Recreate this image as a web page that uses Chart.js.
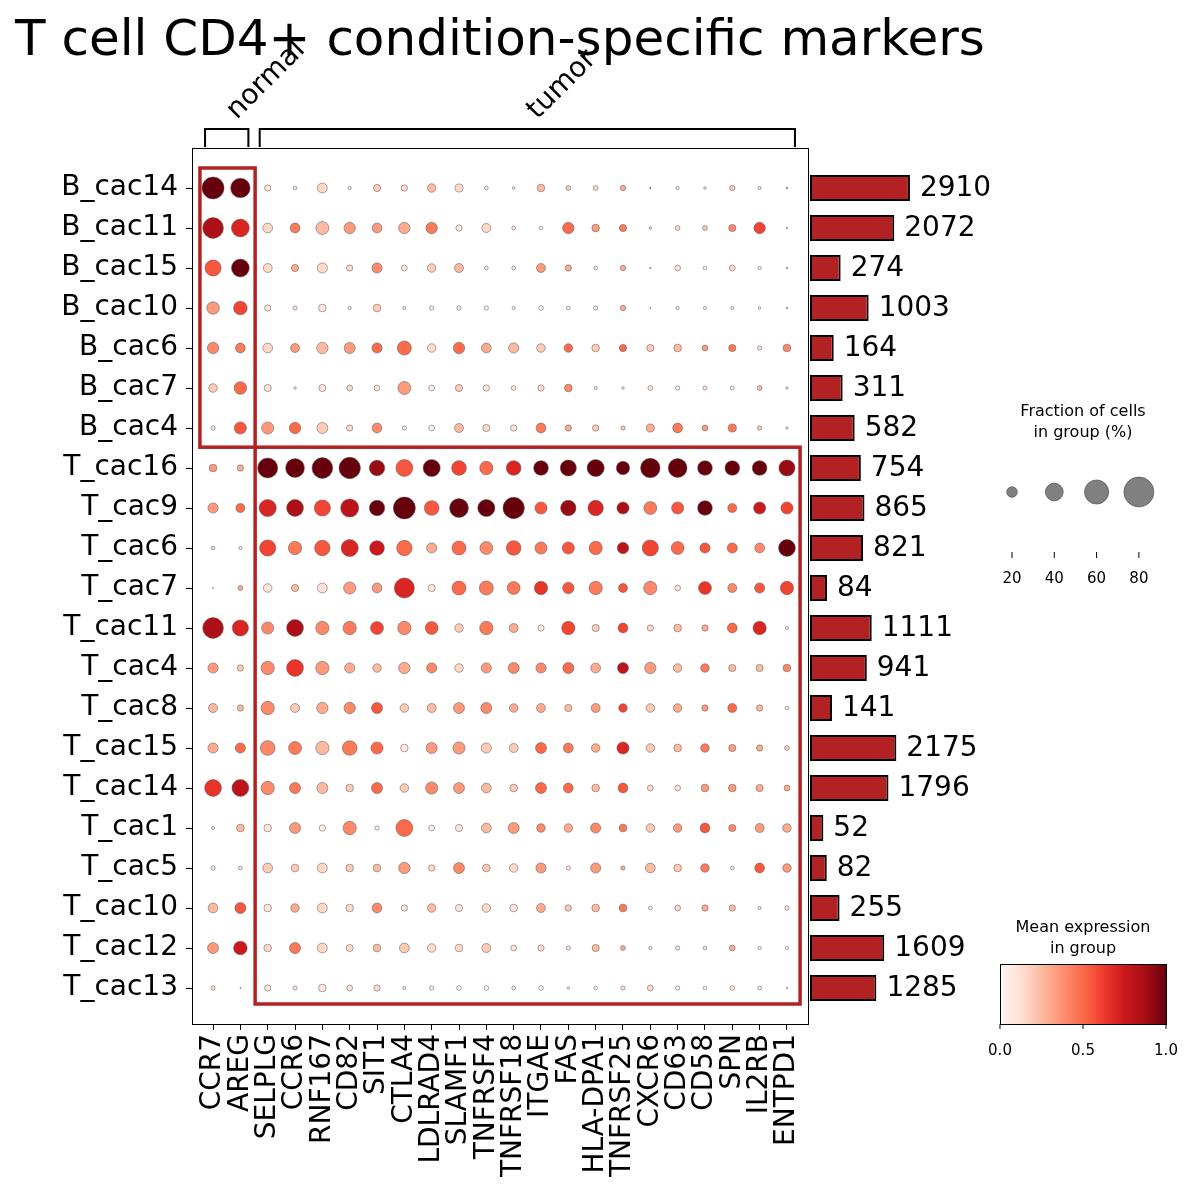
<!DOCTYPE html>
<html>
<head>
<meta charset="utf-8">
<script src="https://cdn.jsdelivr.net/npm/chart.js"></script>
<style>
  body { margin: 0; background: #fff; }
  #wrap { position: relative; width: 1195px; height: 1204px; }
  canvas { position: absolute; }
</style>
</head>
<body>
<div id="wrap">
  <canvas id="dots" width="1195" height="1204" style="left:0;top:0"></canvas>
  <canvas id="bars" width="385" height="840" style="left:810px;top:168px"></canvas>
</div>
<script>
const genes = ["CCR7", "AREG", "SELPLG", "CCR6", "RNF167", "CD82", "SIT1", "CTLA4", "LDLRAD4", "SLAMF1", "TNFRSF4",
    "TNFRSF18", "ITGAE", "FAS", "HLA-DPA1", "TNFRSF25", "CXCR6", "CD63", "CD58", "SPN", "IL2RB", "ENTPD1"]
const groups = ["B_cac14", "B_cac11", "B_cac15", "B_cac10", "B_cac6", "B_cac7", "B_cac4", "T_cac16", "T_cac9", "T_cac6",
    "T_cac7", "T_cac11", "T_cac4", "T_cac8", "T_cac15", "T_cac14", "T_cac1", "T_cac5", "T_cac10", "T_cac12", "T_cac13"]
const cellCounts = [2910, 2072, 274, 1003, 164, 311, 582, 754, 865, 821, 84, 1111, 941, 141, 2175, 1796, 52, 82, 255, 1609, 1285]

// fraction of cells expressing (%) per group x gene
const fraction = [
    [53,45,10,5,18,4,12,10,15,14,5,3,13,7,7,8,1.5,4,3,8,4,2],
    [49,40,18,18,26,22,18,22,22,10,16,5,5,22,13,12,3,7,7,12,22,1.5],
    [35,40,16,12,19,10,19,9,15,16,5,5,16,10,5,8,1.5,9,5,9,4,2],
    [25,28,10,6,13,4,13,4,6,6,6,4,7,5,6,8,1,4,4,4,3,2],
    [22,18,18,16,22,21,19,29,15,22,18,19,15,15,13,12,12,13,9,12,6,13],
    [15,25,12,3,12,9,9,26,9,12,10,7,10,13,4,3,7,6,6,6,7,3],
    [6,24,24,22,21,10,18,6,9,16,12,10,18,10,10,6,14,18,9,14,6,3],
    [13,10,47,43,49,51,33,37,38,31,27,31,31,35,38,27,45,43,31,31,31,35],
    [19,16,38,37,35,41,33,53,31,43,38,51,24,33,33,24,26,24,31,16,24,24],
    [5,4,35,27,33,38,31,33,19,29,26,31,24,24,27,22,35,26,19,19,18,37],
    [1,7,15,12,18,24,18,47,12,29,29,26,27,22,27,16,27,9,26,16,19,27],
    [49,35,24,37,27,27,26,27,26,15,27,16,10,27,12,18,10,13,10,18,27,4],
    [19,10,27,37,27,19,15,22,19,15,19,21,19,21,18,21,22,15,15,12,12,13],
    [16,10,27,16,22,22,21,15,16,21,21,15,16,12,16,15,15,15,10,16,10,5],
    [19,19,31,26,27,31,24,13,21,24,19,16,21,18,15,24,15,13,15,12,10,7],
    [37,37,27,21,21,13,21,15,24,21,18,13,21,18,13,18,9,9,13,13,12,9],
    [4,13,13,21,10,27,6,37,9,12,18,21,15,15,19,13,15,15,18,12,16,15],
    [6,5,18,13,18,13,13,22,10,21,13,15,19,6,19,6,18,13,15,5,18,15],
    [18,21,13,15,18,13,18,10,15,12,15,13,16,10,13,13,5,9,10,10,4,6],
    [21,28,13,21,18,12,13,18,15,13,16,9,10,6,12,7,4,6,5,9,4,4],
    [6,1,10,6,13,9,10,4,6,7,7,5,7,3,5,6,9,6,5,7,5,1.5],
]

// mean expression in group (0..1)
const expression = [
    [1,1,.1,.1,.15,.05,.2,.15,.25,.15,.05,.05,.25,.2,.15,.3,.5,.05,.05,.2,.1,.3],
    [.85,.7,.15,.45,.25,.35,.35,.3,.45,.1,.15,.1,.05,.5,.35,.45,.1,.15,.2,.4,.6,.3],
    [.55,1,.15,.3,.15,.15,.4,.1,.2,.25,.05,.05,.35,.3,.1,.3,.3,.1,.05,.15,.05,.1],
    [.35,.6,.1,.1,.1,.05,.2,.05,.05,.05,.05,.05,.05,.05,.05,.3,.5,.05,.05,.05,.05,.1],
    [.4,.45,.15,.35,.25,.35,.5,.5,.15,.5,.3,.25,.2,.5,.2,.5,.2,.25,.35,.45,.1,.4],
    [.2,.5,.1,.05,.1,.15,.1,.35,.05,.2,.1,.1,.15,.4,.05,.05,.1,.05,.1,.05,.25,.05],
    [.1,.55,.35,.5,.2,.15,.4,.05,.05,.25,.15,.1,.45,.3,.2,.2,.3,.45,.35,.45,.2,.05],
    [.35,.3,1,1,1,1,.9,.55,1,.6,.5,.7,1,1,1,1,1,1,1,1,1,.9],
    [.35,.5,.7,.85,.6,.8,1,1,.55,1,1,1,.55,.9,.7,.85,.45,.55,1,.5,.75,.6],
    [.15,.1,.6,.45,.55,.7,.75,.5,.3,.5,.4,.55,.45,.55,.5,.8,.6,.5,.55,.5,.4,1],
    [.3,.3,.1,.25,.1,.35,.35,.7,.1,.5,.45,.45,.65,.55,.45,.55,.4,.1,.65,.4,.55,.6],
    [.85,.7,.4,.85,.4,.45,.6,.4,.55,.2,.45,.3,.1,.6,.2,.6,.15,.25,.3,.5,.7,.1],
    [.35,.2,.4,.65,.35,.3,.25,.3,.4,.15,.35,.4,.4,.5,.3,.8,.35,.25,.45,.25,.25,.4],
    [.25,.25,.4,.2,.3,.4,.55,.2,.25,.35,.4,.3,.3,.25,.35,.6,.2,.3,.35,.5,.25,.1],
    [.3,.5,.4,.45,.25,.45,.5,.1,.35,.35,.2,.2,.5,.45,.3,.7,.2,.25,.45,.35,.3,.2],
    [.65,.8,.4,.45,.25,.2,.5,.2,.4,.35,.25,.2,.5,.5,.25,.55,.15,.1,.35,.35,.3,.3],
    [.1,.25,.1,.35,.05,.4,.05,.5,.05,.1,.25,.35,.4,.3,.4,.45,.2,.35,.55,.4,.35,.3],
    [.1,.1,.2,.2,.15,.2,.25,.35,.15,.4,.2,.15,.35,.1,.35,.3,.25,.2,.45,.1,.55,.35],
    [.25,.55,.1,.3,.15,.15,.4,.1,.25,.1,.15,.1,.3,.2,.25,.45,.05,.15,.3,.25,.1,.1],
    [.35,.75,.15,.45,.15,.15,.25,.2,.15,.15,.2,.1,.15,.1,.25,.3,.05,.1,.1,.3,.05,.05],
    [.15,.5,.1,.1,.1,.1,.15,.05,.05,.05,.05,.05,.05,.05,.05,.1,.15,.05,.05,.1,.05,.1],
]

const sizeLegendValues = [20, 40, 60, 80]
const colorbarTicks = [0.0, 0.5, 1.0]

// matplotlib "Reds"
const reds = ["#fff5f0", "#fee0d2", "#fcbba1", "#fc9272", "#fb6a4a", "#ef3b2c", "#cb181d", "#a50f15", "#67000d"]
function hex(c) {
    return [1, 3, 5].map((i) => parseInt(c.slice(i, i + 2), 16))
}
function redsColor(v) {
    v = Math.max(0, Math.min(1, v))
    const p = v * (reds.length - 1)
    const i = Math.min(reds.length - 2, Math.floor(p))
    const t = p - i
    const a = hex(reds[i]), b = hex(reds[i + 1])
    return `rgb(${a.map((x, k) => Math.round(x + (b[k] - x) * t)).join(",")})`
}
function dotRadius(f) {
    return 15 * Math.pow(f / 80, 0.75)
}

const FONT = "'DejaVu Sans', sans-serif"
const points = []
groups.forEach((g, i) => genes.forEach((gene, j) => {
    points.push({ x: j, y: i, f: fraction[i][j], e: expression[i][j] })
}))

const extras = {
    id: "extras",
    afterDraw(chart) {
        const ctx = chart.ctx
        const xs = chart.scales.x, ys = chart.scales.y
        const a = chart.chartArea
        ctx.save()
        // frame
        ctx.strokeStyle = "#000"
        ctx.lineWidth = 1
        ctx.strokeRect(a.left + 0.5, a.top + 0.5, a.right - a.left, a.bottom - a.top)

        // title
        ctx.fillStyle = "#000"
        ctx.font = "50px " + FONT
        ctx.textAlign = "left"
        ctx.textBaseline = "alphabetic"
        ctx.fillText("T cell CD4+ condition-specific markers", 15, 55)

        // group brackets
        const brackets = [["normal", 0, 1], ["tumor", 2, 21]]
        ctx.lineWidth = 2
        brackets.forEach(([label, s, e]) => {
            const x0 = xs.getPixelForValue(s) - 8, x1 = xs.getPixelForValue(e) + 8
            ctx.beginPath()
            ctx.moveTo(x0, 147)
            ctx.lineTo(x0, 129)
            ctx.lineTo(x1, 129)
            ctx.lineTo(x1, 147)
            ctx.stroke()
            const cx = (x0 + x1) / 2
            ctx.save()
            ctx.translate(cx + 10, 120)
            ctx.rotate(-Math.PI / 4)
            ctx.font = "28px " + FONT
            ctx.textAlign = "left"
            ctx.fillText(label, 0, 0)
            ctx.restore()
        })

        // highlight boxes
        ctx.strokeStyle = "#b22222"
        ctx.lineWidth = 3.5
        const box = (gx0, gx1, gy0, gy1) => {
            const l = xs.getPixelForValue(gx0), r = xs.getPixelForValue(gx1)
            const t = ys.getPixelForValue(gy0), b = ys.getPixelForValue(gy1)
            ctx.strokeRect(l, t, r - l, b - t)
        }
        box(-0.48, 1.54, -0.5, 6.48)
        box(1.54, 21.48, 6.48, 20.4)

        // size legend
        ctx.fillStyle = "#000"
        ctx.font = "16px " + FONT
        ctx.textAlign = "center"
        ctx.fillText("Fraction of cells", 1083, 416)
        ctx.fillText("in group (%)", 1083, 437)
        sizeLegendValues.forEach((v, k) => {
            const x = 1012 + k * 42.3
            ctx.beginPath()
            ctx.arc(x, 492, dotRadius(v), 0, Math.PI * 2)
            ctx.fillStyle = "#808080"
            ctx.fill()
            ctx.strokeStyle = "#444"
            ctx.lineWidth = 0.6
            ctx.stroke()
            ctx.strokeStyle = "#000"
            ctx.lineWidth = 1
            ctx.beginPath()
            ctx.moveTo(x, 552)
            ctx.lineTo(x, 558)
            ctx.stroke()
            ctx.fillStyle = "#000"
            ctx.font = "15px " + FONT
            ctx.fillText(String(v), x, 583)
        })

        // colorbar
        ctx.font = "16px " + FONT
        ctx.fillText("Mean expression", 1083, 932)
        ctx.fillText("in group", 1083, 953)
        const cl = 1000, cr = 1166, ct = 964, cb = 1024
        const grad = ctx.createLinearGradient(cl, 0, cr, 0)
        reds.forEach((c, k) => grad.addColorStop(k / (reds.length - 1), c))
        ctx.fillStyle = grad
        ctx.fillRect(cl, ct, cr - cl, cb - ct)
        ctx.strokeStyle = "#000"
        ctx.lineWidth = 1
        ctx.strokeRect(cl + 0.5, ct + 0.5, cr - cl, cb - ct)
        colorbarTicks.forEach((v) => {
            const x = cl + v * (cr - cl)
            ctx.beginPath()
            ctx.moveTo(x, cb)
            ctx.lineTo(x, cb + 5)
            ctx.stroke()
            ctx.fillStyle = "#000"
            ctx.font = "15px " + FONT
            ctx.fillText(v.toFixed(1), x, 1055)
        })
        ctx.restore()
    },
}

new Chart(document.getElementById("dots"), {
    type: "bubble",
    data: {
        datasets: [{
            data: points,
            radius: (c) => dotRadius(c.raw.f),
            hoverRadius: 0,
            backgroundColor: (c) => redsColor(c.raw.e),
            borderColor: "#555",
            borderWidth: 0.5,
        }],
    },
    options: {
        responsive: false,
        animation: false,
        events: [],
        layout: { padding: { top: 148, right: 387, left: 0, bottom: 0 } },
        plugins: { legend: { display: false }, tooltip: { enabled: false } },
        scales: {
            x: {
                type: "linear",
                min: -0.77,
                max: 21.77,
                afterBuildTicks: (s) => { s.ticks = genes.map((g, i) => ({ value: i })) },
                afterFit: (s) => { s.height = 180 },
                ticks: {
                    autoSkip: false,
                    minRotation: 90,
                    maxRotation: 90,
                    padding: 4,
                    color: "#000",
                    font: { family: FONT, size: 28 },
                    callback: (v) => genes[v],
                },
                grid: { drawOnChartArea: false, drawTicks: true, tickLength: 6, color: "#000" },
                border: { color: "#000" },
            },
            y: {
                type: "linear",
                reverse: true,
                min: -1,
                max: 20.9,
                afterBuildTicks: (s) => { s.ticks = groups.map((g, i) => ({ value: i })) },
                afterFit: (s) => { s.width = 192 },
                ticks: {
                    autoSkip: false,
                    padding: 8,
                    color: "#000",
                    font: { family: FONT, size: 28 },
                    callback: (v) => groups[v],
                },
                grid: { drawOnChartArea: false, drawTicks: true, tickLength: 6, color: "#000" },
                border: { color: "#000" },
            },
        },
    },
    plugins: [extras],
})

// bar lengths follow sqrt(cell count), labels show the raw count
const barLabels = {
    id: "barLabels",
    afterDatasetsDraw(chart) {
        const ctx = chart.ctx
        const meta = chart.getDatasetMeta(0)
        ctx.save()
        ctx.fillStyle = "#000"
        ctx.font = "28px " + FONT
        ctx.textAlign = "left"
        ctx.textBaseline = "middle"
        meta.data.forEach((bar, i) => {
            ctx.fillText(String(cellCounts[i]), bar.x + 10, bar.y + 1)
        })
        ctx.restore()
    },
}

new Chart(document.getElementById("bars"), {
    type: "bar",
    data: {
        labels: groups,
        datasets: [{
            data: cellCounts.map((c) => Math.sqrt(c)),
            backgroundColor: "#b22222",
            borderColor: "#000",
            borderWidth: 2,
            borderSkipped: false,
            barPercentage: 0.65,
            categoryPercentage: 1,
        }],
    },
    options: {
        indexAxis: "y",
        responsive: false,
        animation: false,
        events: [],
        layout: { padding: { left: 0, right: 185, top: 0, bottom: 0 } },
        plugins: { legend: { display: false }, tooltip: { enabled: false } },
        scales: {
            x: { display: false, min: 0, max: 108 },
            y: { display: false },
        },
    },
    plugins: [barLabels],
})
</script>
</body>
</html>
